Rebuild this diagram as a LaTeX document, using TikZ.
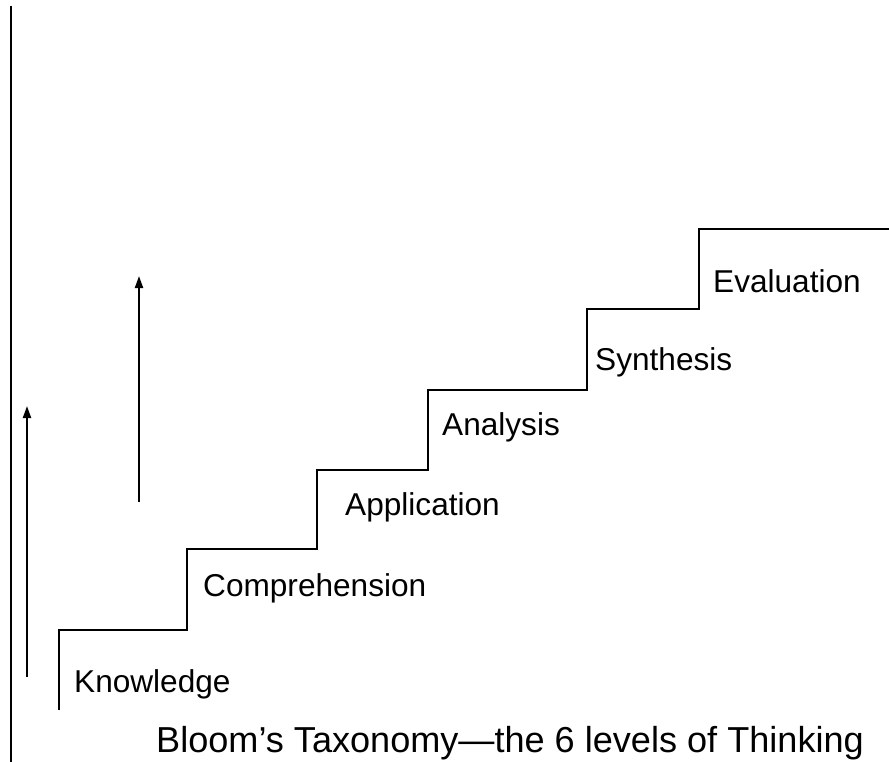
\documentclass[tikz,border=0pt]{standalone}
\usepackage{fontspec}
\setmainfont{Liberation Sans}
\usetikzlibrary{arrows.meta}
\begin{document}
\begin{tikzpicture}[x=1pt,y=-1pt,
  line/.style={line width=2pt,black},
  uparrow/.style={line width=2pt,-{Triangle[width=8pt,length=12pt]}},
  lvl/.style={anchor=base west,inner sep=0pt,font=\fontsize{31.6}{36}\selectfont},
  ttl/.style={anchor=base west,inner sep=0pt,font=\fontsize{36.1}{40}\selectfont}]
\useasboundingbox (0,0) rectangle (889,762);
% left axis
\coordinate (axtop) at (11,6);
\coordinate (axbot) at (11,762);
\draw[line] (axtop) -- (axbot);
% arrows
\coordinate (a1s) at (27,677);
\coordinate (a1e) at (27,406);
\coordinate (a2s) at (139,502);
\coordinate (a2e) at (139,276);
\draw[uparrow] (a1s) -- (a1e);
\draw[uparrow] (a2s) -- (a2e);
% staircase
\coordinate (s0) at (59,710);
\coordinate (s1) at (187,630);
\coordinate (s2) at (317,549);
\coordinate (s3) at (428,470);
\coordinate (s4) at (587,390);
\coordinate (s5) at (699,309);
\coordinate (s6) at (889,229);
\draw[line] (s0) |- (s1) |- (s2) |- (s3) |- (s4) |- (s5) |- (s6);
% labels
\node[lvl] (k) at (74,692) {Knowledge};
\node[lvl] (c) at (203,596) {Comprehension};
\node[lvl] (ap) at (345,515) {Application};
\node[lvl] (an) at (442,435) {Analysis};
\node[lvl] (sy) at (595,370) {Synthesis};
\node[lvl] (ev) at (713,292) {Evaluation};
\node[ttl] (title) at (156,752) {Bloom’s Taxonomy—the 6 levels of Thinking};
\end{tikzpicture}
\end{document}
